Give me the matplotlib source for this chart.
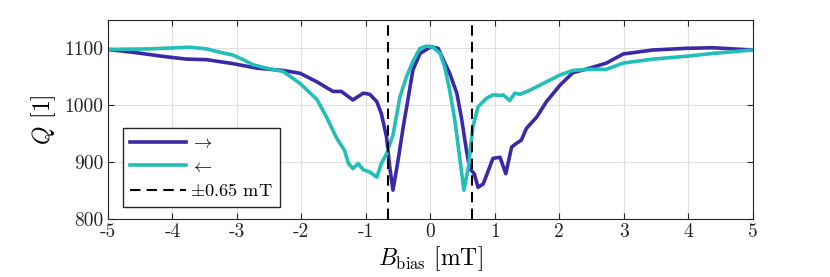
import numpy as np
import matplotlib.pyplot as plt

# Données
# Balayage aller (→)
b_aller = [-5.0, -4.61, -4.09, -3.78, -3.47, -3.06, -2.69, -2.28, -2.02, -1.76,
           -1.51, -1.38, -1.20, -1.04, -0.94, -0.83, -0.76, -0.68, -0.63, -0.58,
           -0.50, -0.42, -0.34, -0.27, -0.16, -0.03, 0.0, 0.12, 0.20, 0.30,
           0.41, 0.48, 0.56, 0.61, 0.68, 0.74, 0.82, 0.90, 0.97, 1.08,
           1.17, 1.26, 1.34, 1.41, 1.49, 1.65, 1.80, 2.01, 2.21, 2.47,
           2.73, 2.99, 3.45, 3.97, 4.38, 5.0]
q_aller = [1098, 1093, 1085, 1081, 1080, 1073, 1065, 1061, 1056, 1041,
           1024, 1024, 1009, 1021, 1019, 1006, 985, 944, 891, 850,
           903, 962, 1015, 1062, 1091, 1100, 1103, 1100, 1080, 1056,
           1021, 979, 920, 888, 879, 855, 861, 885, 906, 908,
           879, 926, 933, 938, 959, 979, 1006, 1035, 1057, 1065,
           1074, 1090, 1097, 1100, 1101, 1097]

# Balayage retour (←)
b_retour = [-5.0, -4.35, -3.73, -3.47, -3.26, -3.06, -2.90, -2.75, -2.54, -2.28,
            -2.02, -1.76, -1.61, -1.45, -1.33, -1.27, -1.20, -1.12, -1.04, -0.94,
            -0.83, -0.76, -0.68, -0.58, -0.47, -0.37, -0.27, -0.16, -0.06, 0.04,
            0.15, 0.22, 0.30, 0.38, 0.46, 0.52, 0.59, 0.66, 0.74, 0.87,
            0.97, 1.08, 1.13, 1.23, 1.31, 1.39, 1.54, 1.80, 2.01, 2.21,
            2.47, 2.73, 2.99, 3.45, 3.97, 4.38, 5.0]
q_retour = [1098, 1099, 1102, 1099, 1093, 1088, 1080, 1071, 1065, 1059,
            1038, 1010, 979, 941, 920, 897, 888, 897, 886, 882,
            873, 897, 914, 947, 1015, 1050, 1077, 1100, 1104, 1102,
            1091, 1068, 1026, 973, 903, 850, 891, 962, 997, 1012,
            1018, 1017, 1018, 1008, 1021, 1019, 1026, 1041, 1053, 1061,
            1063, 1063, 1074, 1081, 1086, 1091, 1097]

b_seuil = 0.65
xticks = [-5, -4, -3, -2, -1, 0, 1, 2, 3, 4, 5]
yticks = [800, 900, 1000, 1100]

########################################################
# Affichage
########################################################
plt.rcParams["font.family"] = "serif"
plt.rcParams["font.serif"] = ["cmr10", "DejaVu Serif"]
plt.rcParams["mathtext.fontset"] = "cm"
plt.rcParams["axes.unicode_minus"] = False
plt.rcParams["font.size"] = 14

fig = plt.figure(figsize=(8.3, 2.77), dpi=100)
ax = fig.add_axes([0.130, 0.211, 0.777, 0.717])

ax.plot(b_aller, q_aller, color="#3A2AA8", linewidth=2.6, label=r"$\rightarrow$")
ax.plot(b_retour, q_retour, color="#22BFB8", linewidth=2.6, label=r"$\leftarrow$")
ax.axvline(-b_seuil, color="black", linewidth=1.5, linestyle=(0, (5, 3)),
           label=r"$\pm0.65$ mT")
ax.axvline(b_seuil, color="black", linewidth=1.5, linestyle=(0, (5, 3)))

ax.set_xlim(-5, 5)
ax.set_ylim(800, 1150)
ax.set_xticks(xticks)
ax.set_xticklabels([str(t) for t in xticks])
ax.set_yticks(yticks)
ax.set_yticklabels([str(t) for t in yticks])

ax.grid(True, color="#E0E0E0", linewidth=0.8)
ax.tick_params(direction="in", top=True, right=True, length=4, width=0.8,
               colors="#262626", labelcolor="#262626")
for s in ax.spines.values():
    s.set_color("#262626")
    s.set_linewidth(0.8)

ax.set_xlabel(r"$B_\mathrm{bias}$ [mT]", labelpad=2, fontsize=17)
ax.set_ylabel(r"$Q$ [1]", labelpad=4, fontsize=17)

ax.legend(loc="lower left", bbox_to_anchor=(0.023, 0.06), borderaxespad=0,
          handlelength=3.05, handletextpad=0.22, borderpad=0.4,
          labelspacing=0.42, fancybox=False, edgecolor="#262626",
          framealpha=1, fontsize=13.2)

fig.savefig("out.png", dpi=100)
